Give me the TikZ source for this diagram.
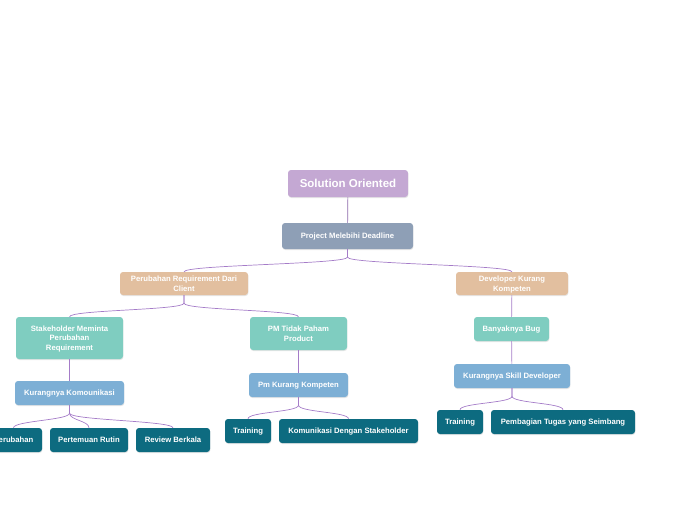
\documentclass[tikz,border=0pt]{standalone}
\usepackage{fontspec}
\setmainfont{Liberation Sans}
\usepackage{tikz}
\usetikzlibrary{positioning,calc,shadows}

\definecolor{rootc}{HTML}{C4A8D3}
\definecolor{mainc}{HTML}{8E9FB6}
\definecolor{tanc}{HTML}{E2BF9F}
\definecolor{tealc}{HTML}{7FCDC0}
\definecolor{bluec}{HTML}{7DAFD5}
\definecolor{darkc}{HTML}{0D6B80}
\definecolor{linec}{HTML}{A57CC8}

\tikzset{
  box/.style={rectangle, rounded corners=3pt, inner sep=0pt, text=white,
    font=\bfseries\fontsize{7.7}{9.5}\selectfont, align=center, text depth=0pt,
    drop shadow={shadow xshift=0.4pt, shadow yshift=-1pt, opacity=0.2}},
  rootbox/.style={box, fill=rootc, minimum width=120pt, minimum height=27pt,
    font=\bfseries\fontsize{11.5}{13}\selectfont},
  mainbox/.style={box, fill=mainc, minimum height=26pt},
  causebox/.style={box, fill=tanc, minimum height=23pt},
  subbox/.style={box, fill=tealc},
  reasonbox/.style={box, fill=bluec, minimum height=24pt},
  actionbox/.style={box, fill=darkc, minimum height=24pt},
  link/.style={draw=linec, line width=0.7pt},
  branch/.style={to path={(\tikztostart) -- ++(0,8)
    .. controls +(0,7) and +(0,-7) .. (\tikztotarget)}}
}

\begin{document}
\begin{tikzpicture}[x=1pt, y=-1pt]
  \useasboundingbox (0,0) rectangle (696,520);
  \clip (0,0) rectangle (696,520);
  % top of the map
  \node[rootbox] (root) at (348,183.5) {Solution Oriented};
  \node[mainbox, minimum width=131pt] (proj) at (347.5,236) {Project Melebihi Deadline};
  % causes
  \node[causebox, minimum width=128pt] (req) at (184,283.5) {Perubahan Requirement Dari\\Client};
  \node[causebox, minimum width=112pt] (dev) at (512,283.5) {Developer Kurang\\Kompeten};
  % sub causes
  \node[subbox, minimum width=107pt, minimum height=42pt] (stake) at (69.5,338) {Stakeholder Meminta\\Perubahan\\Requirement};
  \node[subbox, minimum width=97pt, minimum height=33pt] (pmt) at (298.5,333.5) {PM Tidak Paham\\Product};
  \node[subbox, minimum width=75pt, minimum height=24pt] (bug) at (511.5,329) {Banyaknya Bug};
  % reasons
  \node[reasonbox, minimum width=109pt] (kom) at (69.5,393) {Kurangnya Komounikasi};
  \node[reasonbox, minimum width=99pt] (pmk) at (298.5,385) {Pm Kurang Kompeten};
  \node[reasonbox, minimum width=116pt] (skill) at (512,376) {Kurangnya Skill Developer};
  % actions
  \node[actionbox, minimum width=57pt] (a1) at (13.5,440) {Perubahan};
  \node[actionbox, minimum width=78pt] (a2) at (89,440) {Pertemuan Rutin};
  \node[actionbox, minimum width=74pt] (a3) at (173,440) {Review Berkala};
  \node[actionbox, minimum width=46pt] (b1) at (248,431) {Training};
  \node[actionbox, minimum width=139pt] (b2) at (348.5,431) {Komunikasi Dengan Stakeholder};
  \node[actionbox, minimum width=46pt] (c1) at (460,422) {Training};
  \node[actionbox, minimum width=144pt] (c2) at (563,422) {Pembagian Tugas yang Seimbang};
  % links
  \draw[link, draw=linec!85!black] (root) -- (proj);
  \draw[link] (proj.south) to[branch] (req.north);
  \draw[link] (proj.south) to[branch] (dev.north);
  \draw[link] (req.south) to[branch] (stake.north);
  \draw[link] (req.south) to[branch] (pmt.north);
  \draw[link] (dev) -- (bug);
  \draw[link] (stake) -- (kom);
  \draw[link] (pmt) -- (pmk);
  \draw[link] (bug) -- (skill);
  \foreach \n in {a1,a2,a3}
    \draw[link] (kom.south) to[branch] (\n.north);
  \foreach \n in {b1,b2}
    \draw[link] (pmk.south) to[branch] (\n.north);
  \foreach \n in {c1,c2}
    \draw[link] (skill.south) to[branch] (\n.north);
\end{tikzpicture}
\end{document}
